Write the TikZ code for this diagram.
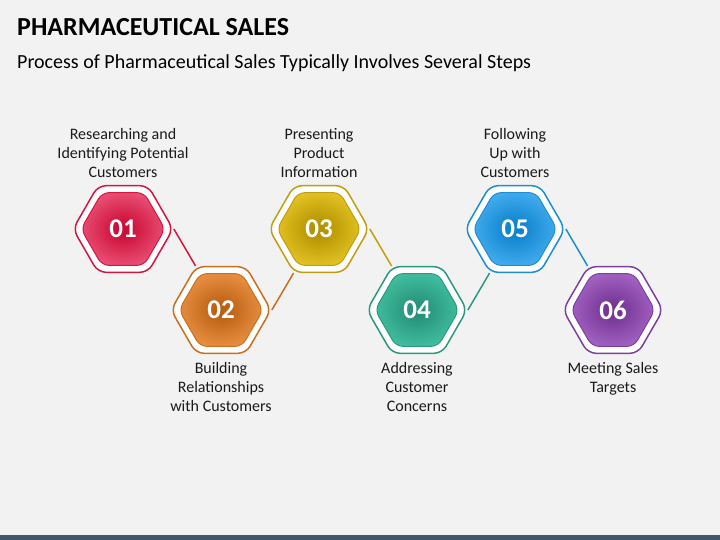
\documentclass[tikz,border=0pt]{standalone}
\usepackage{fontspec}
\setmainfont{Carlito}
\usetikzlibrary{shapes.geometric}
\pgfdeclarelayer{bg}
\pgfsetlayers{bg,main}
\definecolor{bgc}{HTML}{F2F2F2}
\definecolor{barc}{HTML}{44546A}
\definecolor{txt}{HTML}{1A1A1A}
\definecolor{cA}{HTML}{D41640}\definecolor{cAi}{HTML}{CC0E39}\definecolor{cAo}{HTML}{EF5C80}
\definecolor{cB}{HTML}{C96F1E}\definecolor{cBi}{HTML}{BB6114}\definecolor{cBo}{HTML}{F0984A}
\definecolor{cC}{HTML}{BF9F0F}\definecolor{cCi}{HTML}{B39300}\definecolor{cCo}{HTML}{ECCB2A}
\definecolor{cD}{HTML}{2B9980}\definecolor{cDi}{HTML}{26927A}\definecolor{cDo}{HTML}{46C6A6}
\definecolor{cE}{HTML}{1C8ED4}\definecolor{cEi}{HTML}{0E84CF}\definecolor{cEo}{HTML}{4CB3F2}
\definecolor{cF}{HTML}{7E3FA0}\definecolor{cFi}{HTML}{743595}\definecolor{cFo}{HTML}{AB6BCA}
\pgfdeclareradialshading{shA}{\pgfpoint{0bp}{0bp}}{color(0bp)=(cAi); color(4bp)=(cAi); color(30bp)=(cAo); color(50bp)=(cAo)}
\pgfdeclareradialshading{shB}{\pgfpoint{0bp}{0bp}}{color(0bp)=(cBi); color(4bp)=(cBi); color(30bp)=(cBo); color(50bp)=(cBo)}
\pgfdeclareradialshading{shC}{\pgfpoint{0bp}{0bp}}{color(0bp)=(cCi); color(4bp)=(cCi); color(30bp)=(cCo); color(50bp)=(cCo)}
\pgfdeclareradialshading{shD}{\pgfpoint{0bp}{0bp}}{color(0bp)=(cDi); color(4bp)=(cDi); color(30bp)=(cDo); color(50bp)=(cDo)}
\pgfdeclareradialshading{shE}{\pgfpoint{0bp}{0bp}}{color(0bp)=(cEi); color(4bp)=(cEi); color(30bp)=(cEo); color(50bp)=(cEo)}
\pgfdeclareradialshading{shF}{\pgfpoint{0bp}{0bp}}{color(0bp)=(cFi); color(4bp)=(cFi); color(30bp)=(cFo); color(50bp)=(cFo)}
\tikzset{
  outerhex/.style={regular polygon, regular polygon sides=6, minimum size=100pt, inner sep=0pt,
    draw=#1, fill=white, line width=1.5pt, rounded corners=8pt},
  innerhex/.style 2 args={regular polygon, regular polygon sides=6, minimum size=84pt, inner sep=0pt,
    draw=#1, line width=1pt, rounded corners=7pt, shading=#2,
    text=white, font=\fontsize{27}{30}\selectfont\bfseries},
  link/.style={draw=#1, line width=1.5pt},
  toplabel/.style={anchor=south, align=center, inner sep=0pt, text=txt,
    font=\fontsize{16}{19}\selectfont},
  botlabel/.style={anchor=north, align=center, inner sep=0pt, text=txt,
    font=\fontsize{16}{19}\selectfont},
}
\begin{document}
\begin{tikzpicture}[x=1pt,y=-1pt]
\begin{pgfonlayer}{bg}
\fill[bgc] (0,0) rectangle (720,540);
\fill[barc] (0,535) rectangle (720,540);
\end{pgfonlayer}
\useasboundingbox (0,0) rectangle (720,540);
\node[anchor=base west, inner sep=0pt, text=black, font=\fontsize{26}{28}\selectfont\bfseries] (title) at (17,36) {PHARMACEUTICAL SALES};
\node[anchor=base west, inner sep=0pt, text=black, font=\fontsize{20}{24}\selectfont] (subtitle) at (17,69) {Process of Pharmaceutical Sales Typically Involves Several Steps};

\node[outerhex=cA] (o1) at (123,229) {};
\node[outerhex=cB] (o2) at (221,310) {};
\node[outerhex=cC] (o3) at (319,229) {};
\node[outerhex=cD] (o4) at (417,310) {};
\node[outerhex=cE] (o5) at (515,229) {};
\node[outerhex=cF] (o6) at (613,310) {};

\node[innerhex={cA}{shA}] (n1) at (o1.center) {01};
\node[innerhex={cB}{shB}] (n2) at (o2.center) {02};
\node[innerhex={cC}{shC}] (n3) at (o3.center) {03};
\node[innerhex={cD}{shD}] (n4) at (o4.center) {04};
\node[innerhex={cE}{shE}] (n5) at (o5.center) {05};
\node[innerhex={cF}{shF}] (n6) at (o6.center) {06};

\begin{pgfonlayer}{bg}
\draw[link=cA] (o1.0) -- (o2.120);
\draw[link=cB] (o2.0) -- (o3.240);
\draw[link=cC] (o3.0) -- (o4.120);
\draw[link=cD] (o4.0) -- (o5.240);
\draw[link=cE] (o5.0) -- (o6.120);
\end{pgfonlayer}

\node[toplabel] (t1) at (123,178) {Researching and\\Identifying Potential\\Customers};
\node[toplabel] (t3) at (319,178) {Presenting\\Product\\Information};
\node[toplabel] (t5) at (515,178) {Following\\Up with\\Customers};
\node[botlabel] (t2) at (221,362) {Building\\Relationships\\with Customers};
\node[botlabel] (t4) at (417,362) {Addressing\\Customer\\Concerns};
\node[botlabel] (t6) at (613,362) {Meeting Sales\\Targets};
\end{tikzpicture}
\end{document}
